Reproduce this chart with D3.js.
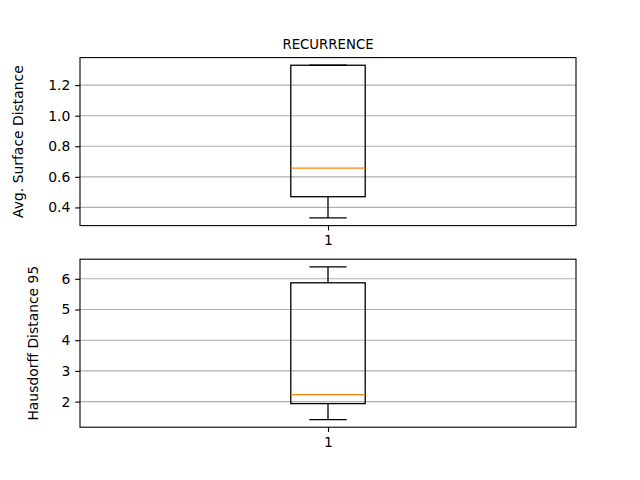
<!DOCTYPE html>
<html>
<head>
<meta charset="utf-8">
<script src="https://cdn.jsdelivr.net/npm/d3@7"></script>
<style>
  html, body { margin: 0; padding: 0; background: #fff; }
  text { font-family: "DejaVu Sans", sans-serif; fill: #000; }
</style>
</head>
<body>
<svg id="chart" width="640" height="480"></svg>
<script>
// ---- data ----
const categories = ["1"];
const panelTitles = ["RECURRENCE", ""];
const yLabels = ["Avg. Surface Distance", "Hausdorff Distance 95"];
// box stats: [whiskerLow, q1, median, q3, whiskerHigh]
const asdStats = [0.331, 0.47, 0.657, 1.33, 1.33];
const hd95Stats = [1.415, 1.935, 2.23, 5.87, 6.39];
const asdTicks = [0.4, 0.6, 0.8, 1.0, 1.2];
const hd95Ticks = [2, 3, 4, 5, 6];
const asdTickLabels = ["0.4", "0.6", "0.8", "1.0", "1.2"];
const hd95TickLabels = ["2", "3", "4", "5", "6"];

const panels = [
  { title: panelTitles[0], ylabel: yLabels[0], stats: asdStats, ticks: asdTicks, tickLabels: asdTickLabels },
  { title: panelTitles[1], ylabel: yLabels[1], stats: hd95Stats, ticks: hd95Ticks, tickLabels: hd95TickLabels }
];

const svg = d3.select("#chart");
const W = 640, H = 480;
const mLeft = 0.125 * W, mRight = 0.9 * W;
const mTop = H - 0.88 * H, mBottom = H - 0.11 * H;
const hspace = 0.2;
const axH = (mBottom - mTop) / (2 + hspace);
const gap = axH * hspace;
const fs = 13.9;
const tick = 4.86;

panels.forEach((p, i) => {
  const y0 = mTop + i * (axH + gap);
  const y1 = y0 + axH;
  const lo = d3.min(p.stats), hi = d3.max(p.stats);
  const pad = (hi - lo) * 0.05;
  const y = d3.scaleLinear().domain([lo - pad, hi + pad]).range([y1, y0]);
  const x = d3.scaleLinear().domain([0.5, 1.5]).range([mLeft, mRight]);
  const g = svg.append("g");

  // grid
  g.selectAll(".grid").data(p.ticks).enter().append("line")
    .attr("x1", mLeft).attr("x2", mRight)
    .attr("y1", d => y(d)).attr("y2", d => y(d))
    .attr("stroke", "#b0b0b0").attr("stroke-width", 1.1);

  // box plot
  const s = p.stats;
  const cx = x(1);
  const bw = x(1 + 0.075) - x(1 - 0.075);
  const cw = bw / 2;
  const lw = 1.3;
  g.append("line").attr("x1", cx).attr("x2", cx).attr("y1", y(s[0])).attr("y2", y(s[1]))
    .attr("stroke", "#000").attr("stroke-width", lw);
  g.append("line").attr("x1", cx).attr("x2", cx).attr("y1", y(s[3])).attr("y2", y(s[4]))
    .attr("stroke", "#000").attr("stroke-width", lw);
  [s[0], s[4]].forEach(v => {
    g.append("line").attr("x1", cx - cw / 2).attr("x2", cx + cw / 2)
      .attr("y1", y(v)).attr("y2", y(v)).attr("stroke", "#000").attr("stroke-width", lw);
  });
  g.append("rect").attr("x", cx - bw / 2).attr("y", y(s[3]))
    .attr("width", bw).attr("height", y(s[1]) - y(s[3]))
    .attr("fill", "none").attr("stroke", "#000").attr("stroke-width", lw);
  g.append("line").attr("x1", cx - bw / 2).attr("x2", cx + bw / 2)
    .attr("y1", y(s[2])).attr("y2", y(s[2]))
    .attr("stroke", "#ff7f0e").attr("stroke-width", lw);

  // spines
  g.append("rect").attr("x", mLeft).attr("y", y0).attr("width", mRight - mLeft).attr("height", axH)
    .attr("fill", "none").attr("stroke", "#000").attr("stroke-width", 1.1);

  // y axis
  const yAxis = d3.axisLeft(y).tickValues(p.ticks)
    .tickFormat((d, k) => p.tickLabels[k]).tickSize(tick).tickPadding(tick);
  const ya = g.append("g").attr("transform", `translate(${mLeft},0)`).call(yAxis);
  ya.select(".domain").remove();
  ya.selectAll(".tick line").attr("stroke", "#000").attr("stroke-width", 1.1);
  ya.selectAll(".tick text").attr("font-size", fs).attr("font-family", "DejaVu Sans").attr("fill", "#000");

  // x axis
  const xAxis = d3.axisBottom(x).tickValues([1]).tickFormat((d, k) => categories[k])
    .tickSize(tick).tickPadding(tick);
  const xa = g.append("g").attr("transform", `translate(0,${y1})`).call(xAxis);
  xa.select(".domain").remove();
  xa.selectAll(".tick line").attr("stroke", "#000").attr("stroke-width", 1.1);
  xa.selectAll(".tick text").attr("font-size", fs).attr("font-family", "DejaVu Sans").attr("fill", "#000");

  // y label
  const labX = i === 0 ? 23 : 38;
  g.append("text").attr("transform", `translate(${labX},${(y0 + y1) / 2}) rotate(-90)`)
    .attr("text-anchor", "middle").attr("font-size", fs).text(p.ylabel);

  // title
  if (p.title) {
    g.append("text").attr("x", (mLeft + mRight) / 2).attr("y", y0 - 8.3)
      .attr("text-anchor", "middle").attr("font-size", 13.3).text(p.title);
  }
});
</script>
</body>
</html>
